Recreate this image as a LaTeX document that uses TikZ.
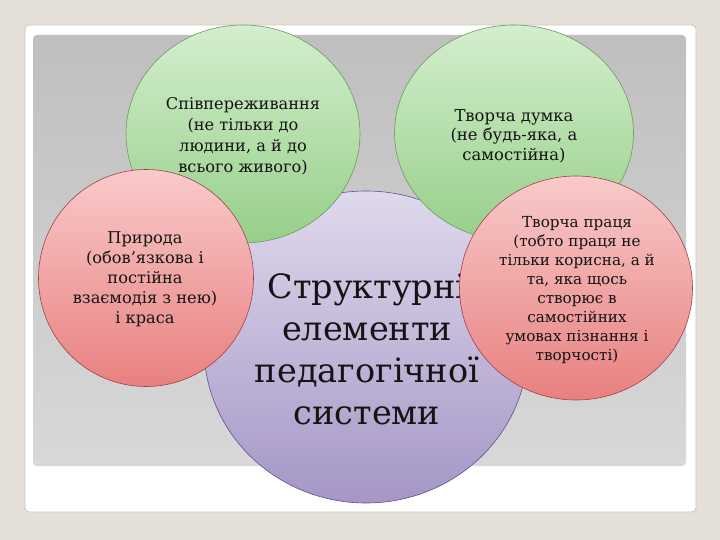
\documentclass[tikz,border=0pt]{standalone}
\usepackage{fontspec}
\setmainfont{DejaVu Serif}
\usetikzlibrary{shapes.geometric,shadows}
\definecolor{pagebg}{HTML}{E4DFD7}
\definecolor{framegray}{HTML}{C9C6C0}
\definecolor{panelTop}{HTML}{BFBFBF}
\definecolor{panelBot}{HTML}{D8D8D8}
\definecolor{greenTop}{HTML}{D4EECE}
\definecolor{greenBot}{HTML}{96CF88}
\definecolor{greenLine}{HTML}{6C9A60}
\definecolor{redTop}{HTML}{F9CACA}
\definecolor{redBot}{HTML}{E88080}
\definecolor{redLine}{HTML}{A0404A}
\definecolor{purpTop}{HTML}{DFD9EC}
\definecolor{purpBot}{HTML}{A596C6}
\definecolor{purpLine}{HTML}{5C5296}
\definecolor{ink}{HTML}{141414}
\tikzset{
  blob/.style={ellipse, inner sep=0pt, line width=0.6pt},
  greenblob/.style={blob, draw=greenLine, top color=greenTop, bottom color=greenBot},
  redblob/.style={blob, draw=redLine, top color=redTop, bottom color=redBot},
  purpblob/.style={blob, draw=purpLine, top color=purpTop, bottom color=purpBot},
  lbl/.style={align=center, text=ink, inner sep=0pt},
}
\begin{document}
\begin{tikzpicture}[x=1pt,y=-1pt]
\useasboundingbox (0,0) rectangle (720,540);
\fill[pagebg] (0,0) rectangle (720,540);
\draw[framegray, fill=white, line width=0.8pt, rounded corners=4pt] (25,25) rectangle (696,512);
\shade[top color=panelTop, bottom color=panelBot, rounded corners=4pt] (33,35) rectangle (686,466);

% central circle
\node[purpblob, minimum width=324pt, minimum height=312pt] (core) at (366,347) {};
\node[lbl, font=\fontsize{33.5}{42}\selectfont] (coretxt) at (367,349)
  {Структурні\\елементи\\педагогічної\\системи};

% green circles
\node[greenblob, minimum width=234pt, minimum height=218pt] (empathy) at (243,134) {};
\node[lbl, font=\fontsize{16.2}{21}\selectfont] (empathytxt) at (243,136)
  {Співпереживання\\(не тільки до\\людини, а й до\\всього живого)};

\node[greenblob, minimum width=239pt, minimum height=216pt] (thought) at (514,133) {};
\node[lbl, font=\fontsize{16.4}{19.5}\selectfont] (thoughttxt) at (514,136)
  {Творча думка\\(не будь-яка, а\\самостійна)};

% red circles
\node[redblob, minimum width=215pt, minimum height=217pt] (nature) at (146,278) {};
\node[lbl, font=\fontsize{16.2}{20}\selectfont] (naturetxt) at (145,279)
  {Природа\\(обов’язкова і\\постійна\\взаємодія з нею)\\і краса};

\node[redblob, minimum width=233pt, minimum height=224pt] (labour) at (576,288) {};
\node[lbl, font=\fontsize{15.2}{19}\selectfont] (labourtxt) at (577,290)
  {Творча праця\\(тобто праця не\\тільки корисна, а й\\та, яка щось\\створює в\\самостійних\\умовах пізнання і\\творчості)};
\end{tikzpicture}
\end{document}
